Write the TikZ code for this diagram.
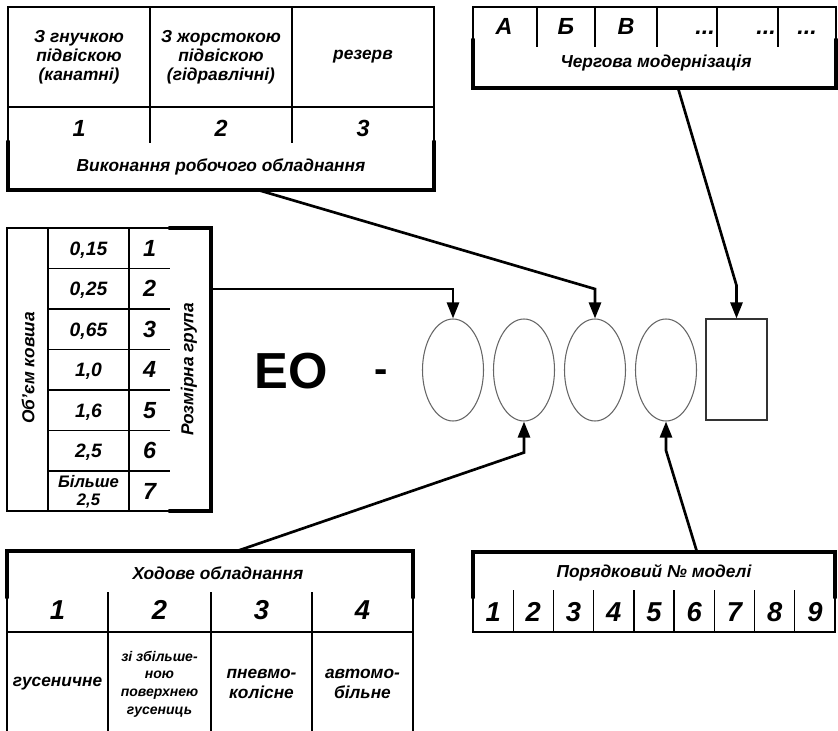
\documentclass[tikz,border=0pt]{standalone}
\usepackage{fontspec}
\setmainfont{Liberation Sans}
\usetikzlibrary{arrows.meta,shapes.geometric,calc}

\begin{document}
\begin{tikzpicture}[
    x=0.75pt, y=-0.75pt,
    cell/.style={line width=1pt},
    bracket/.style={line width=3.6pt, line cap=round},
    link/.style={line width=2pt, -{Triangle[length=12pt, width=9pt]}},
    slot/.style={ellipse, draw=black!60, line width=0.8pt, minimum width=45.75pt, minimum height=76.5pt, inner sep=0pt},
    codebox/.style={draw=black!80, line width=0.8pt, minimum width=45.75pt, minimum height=75.75pt, inner sep=0pt},
    txt/.style={font=\bfseries\itshape\fontsize{13}{14.3}\selectfont, align=center, inner sep=0pt},
    wide/.style={font=\bfseries\itshape\fontsize{13}{15}\selectfont, align=center, inner sep=0pt},
    small/.style={font=\bfseries\itshape\fontsize{10.5}{13.3}\selectfont, align=center, inner sep=0pt},
    val/.style={font=\bfseries\itshape\fontsize{14.5}{16}\selectfont, inner sep=0pt, text depth=0pt},
    num/.style={font=\bfseries\itshape\fontsize{17.5}{19}\selectfont, inner sep=0pt},
    bignum/.style={font=\bfseries\itshape\fontsize{20.5}{22}\selectfont, inner sep=0pt},
]
\useasboundingbox (0,0) rectangle (838,731);

\draw[cell] (8,142) -- (8,7) -- (434,7) -- (434,142);
\draw[cell] (8,107) -- (434,107);
\foreach \x in {150,292} \draw[cell] (\x,7) -- (\x,143);
\draw[bracket] (8,142) -- (8,190) -- (434,190) -- (434,142);
\node[txt] (w1) at (79,57) {З гнучкою\\підвіскою\\(канатні)};
\node[txt] (w2) at (221,57) {З жорстокою\\підвіскою\\(гідравлічні)};
\node[txt] (w3) at (363,57) {резерв};
\foreach \k/\x in {1/79,2/221,3/363}
  \node[num] (wn\k) at (\x,128) {\k};
\node[txt] (wtitle) at (221,167) {Виконання робочого обладнання};

\draw[cell] (473,40) -- (473,7) -- (836,7) -- (836,40);
\foreach \x in {537,595,657,717,778} \draw[cell] (\x,7) -- (\x,47);
\draw[bracket] (473,40) -- (473,88) -- (836,88) -- (836,40);
\foreach \k/\x/\t in {1/504/А,2/566/Б,3/626/В}
  \node[num, anchor=base] (c\k) at (\x,35) {\t};
\node[num, anchor=base east] (c4) at (715,35) {...};
\node[num, anchor=base east] (c5) at (776,35) {...};
\node[num, anchor=base] (c6) at (807,35) {...};
\node[txt] (ctitle) at (656,63) {Чергова модернізація};

\draw[cell] (170,228) -- (7,228) -- (7,511) -- (170,511);
\draw[cell] (48,228) -- (48,511);
\draw[cell] (129,228) -- (129,511);
\foreach \k in {1,...,6} \draw[cell] (48,228+40.5*\k) -- (170,228+40.5*\k);
\draw[bracket] (170,228) -- (211,228) -- (211,511) -- (170,511);
\foreach \k/\v in {1/{0,15},2/{0,25},3/{0,65},4/{1,0},5/{1,6},6/{2,5}}
  \node[val] (v\k) at (88.5,{228+40.5*\k-20.25}) {\v};
\node[font=\bfseries\itshape\fontsize{12.5}{13.5}\selectfont, align=center, inner sep=0pt] (v7) at (88.5,491.25) {Більше\\2,5};
\foreach \k in {1,...,7}
  \node[num] (g\k) at (149.5,{228+40.5*\k-20.25}) {\k};
\node[txt, rotate=90] (vol) at (28,368) {Об’єм ковша};
\node[txt, rotate=90] (grp) at (189,369.5) {Розмірна група};

\node[font=\bfseries\fontsize{38}{40}\selectfont, inner sep=0pt, anchor=base] (eo) at (291,388) {ЕО};
\node[font=\bfseries\fontsize{30}{32}\selectfont, inner sep=0pt, anchor=base] (hyph) at (381,382) {-};
\foreach \k/\x in {1/453,2/524,3/595,4/666}
  \node[slot] (e\k) at (\x,370) {};
\node[codebox] (mod) at (736.5,369.5) {};

\draw[bracket] (7,597) -- (7,551) -- (413,551) -- (413,597);
\draw[cell] (7,597) -- (7,731);
\draw[cell] (413,597) -- (413,731);
\draw[cell] (7,632) -- (413,632);
\foreach \x in {108,211,312} \draw[cell] (\x,592) -- (\x,731);
\node[txt] (htitle) at (218,573) {Ходове обладнання};
\foreach \k/\x in {1/57.5,2/159.5,3/261.5,4/362.5}
  \node[bignum] (hn\k) at (\x,610) {\k};
\node[txt] (h1) at (57.5,684) {гусеничне};
\node[small] (h2) at (159.5,684) {зі збільше-\\ною\\поверхнею\\гусениць};
\node[wide] (h3) at (261.5,684) {пневмо-\\колісне};
\node[wide] (h4) at (362.5,684) {автомо-\\більне};

\draw[bracket] (473,597) -- (473,552) -- (835,552) -- (835,597);
\draw[cell] (473,597) -- (473,632) -- (835,632) -- (835,597);
\foreach \k in {1,...,8} \draw[cell] (473+40.22*\k,590) -- (473+40.22*\k,632);
\node[txt] (ptitle) at (654,573) {Порядковий № моделі};
\foreach \k in {1,...,9}
  \node[bignum] (pn\k) at ({473+40.22*(\k-0.5)},612) {\k};

\coordinate (rgo) at (211,289);
\coordinate (wo) at (258,190);
\coordinate (co) at (678,88);
\coordinate (ho) at (237,551);
\coordinate (po) at (697,552);
\draw[link] (rgo) -| (e1.north);
\draw[link] (wo) -- (e3.north |- rgo) -- (e3.north);
\draw[link] (co) -- ($(mod.north)+(0,-33)$) -- (mod.north);
\draw[link] (ho) -- ($(e2.south)+(0,31)$) -- (e2.south);
\draw[link] (po) -- ($(e4.south)+(0,29)$) -- (e4.south);
\end{tikzpicture}
\end{document}
